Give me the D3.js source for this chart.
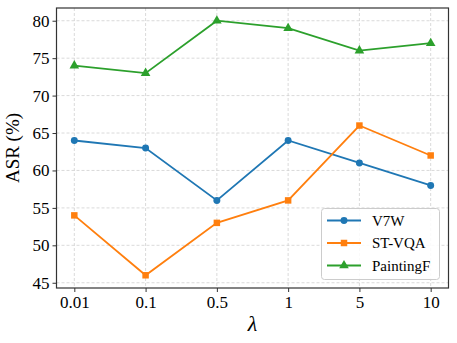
<!DOCTYPE html>
<html><head><meta charset="utf-8">
<script src="https://cdn.jsdelivr.net/npm/d3@7"></script>
<style>body{margin:0;background:#fff}svg{display:block}</style>
</head><body><svg id="c" width="457" height="343"></svg>
<script>
const categories = ["0.01","0.1","0.5","1","5","10"];
const v7w = [64,63,56,64,61,58];
const stvqa = [54,46,53,56,66,62];
const paintingF = [74,73,80,79,76,77];
const yTicks = [45,50,55,60,65,70,75,80];
const seriesNames = ["V7W","ST-VQA","PaintingF"];
const colors = ["#1f77b4","#ff7f0e","#2ca02c"];
const shapes = ["circle","square","triangle"];

const svg = d3.select("#c");
const L=56.5,R=448.5,T=8,B=288;
const x = d3.scalePoint().domain(categories).range([L,R]).padding(0.25/ (1) ).align(0.5);
// matplotlib 5% margins: set explicitly
const xs = d3.scaleLinear().domain([-0.25,5.25]).range([L,R]);
const xpos = c => xs(categories.indexOf(c));
const y = d3.scaleLinear().domain([44.3,81.7]).range([B,T]);
const font = "'Liberation Serif','Times New Roman',serif";

// grid
const g = svg.append("g");
g.selectAll(".gx").data(categories).join("line")
  .attr("x1",d=>xpos(d)).attr("x2",d=>xpos(d)).attr("y1",T).attr("y2",B)
  .attr("stroke","#d0d0d0").attr("stroke-width",0.8).attr("stroke-dasharray","3,2");
g.selectAll(".gy").data(yTicks).join("line")
  .attr("x1",L).attr("x2",R).attr("y1",d=>y(d)).attr("y2",d=>y(d))
  .attr("stroke","#d0d0d0").attr("stroke-width",0.8).attr("stroke-dasharray","3,2");

// axes
const xAxis = d3.axisBottom(xs).tickValues(d3.range(categories.length)).tickFormat(i=>categories[i]).tickSize(4).tickPadding(4);
const yAxis = d3.axisLeft(y).tickValues(yTicks).tickSize(4).tickPadding(3);
const ax = svg.append("g").attr("transform",`translate(0,${B})`).call(xAxis);
const ay = svg.append("g").attr("transform",`translate(${L},0)`).call(yAxis);
[ax,ay].forEach(a=>{a.select(".domain").remove();
  a.selectAll("text").attr("font-family",font).attr("font-size",17).attr("fill","#000");
  a.selectAll("line").attr("stroke","#333");});

svg.append("rect").attr("x",L).attr("y",T).attr("width",R-L).attr("height",B-T)
  .attr("fill","none").attr("stroke","#333").attr("stroke-width",1.2);

// series
const data=[v7w,stvqa,paintingF];
const sym = s => s==="circle"?d3.symbolCircle:s==="square"?d3.symbolSquare:d3.symbolTriangle;
const symSize = s => s==="circle"?38:s==="square"?42:40;
data.forEach((vals,k)=>{
  const line=d3.line().x((d,i)=>xs(i)).y(d=>y(d));
  svg.append("path").datum(vals).attr("d",line).attr("fill","none").attr("stroke",colors[k]).attr("stroke-width",1.8);
  svg.selectAll(null).data(vals).join("path")
    .attr("transform",(d,i)=>`translate(${xs(i)},${y(d)})`)
    .attr("d",d3.symbol().type(sym(shapes[k])).size(symSize(shapes[k])))
    .attr("fill",colors[k]);
});

// labels
svg.append("text").attr("transform",`translate(19,${(T+B)/2}) rotate(-90)`).attr("text-anchor","middle")
  .attr("font-family",font).attr("font-size",19).text("ASR (%)");
svg.append("text").attr("x",(L+R)/2).attr("y",331).attr("text-anchor","middle")
  .attr("font-family",font).attr("font-style","italic").attr("font-size",22).text("λ");

// legend
const lg = svg.append("g");
lg.append("rect").attr("x",321.5).attr("y",208.5).attr("width",118).attr("height",71).attr("rx",3)
  .attr("fill","#fff").attr("fill-opacity",0.85).attr("stroke","#ccc");
seriesNames.forEach((n,k)=>{
  const yy=220.5+k*22.5;
  lg.append("line").attr("x1",327).attr("x2",361).attr("y1",yy).attr("y2",yy).attr("stroke",colors[k]).attr("stroke-width",1.8);
  lg.append("path").attr("transform",`translate(344,${yy})`).attr("d",d3.symbol().type(sym(shapes[k])).size(symSize(shapes[k]))).attr("fill",colors[k]);
  lg.append("text").attr("x",372).attr("y",yy+5).attr("font-family",font).attr("font-size",15).text(n);
});
</script></body></html>
